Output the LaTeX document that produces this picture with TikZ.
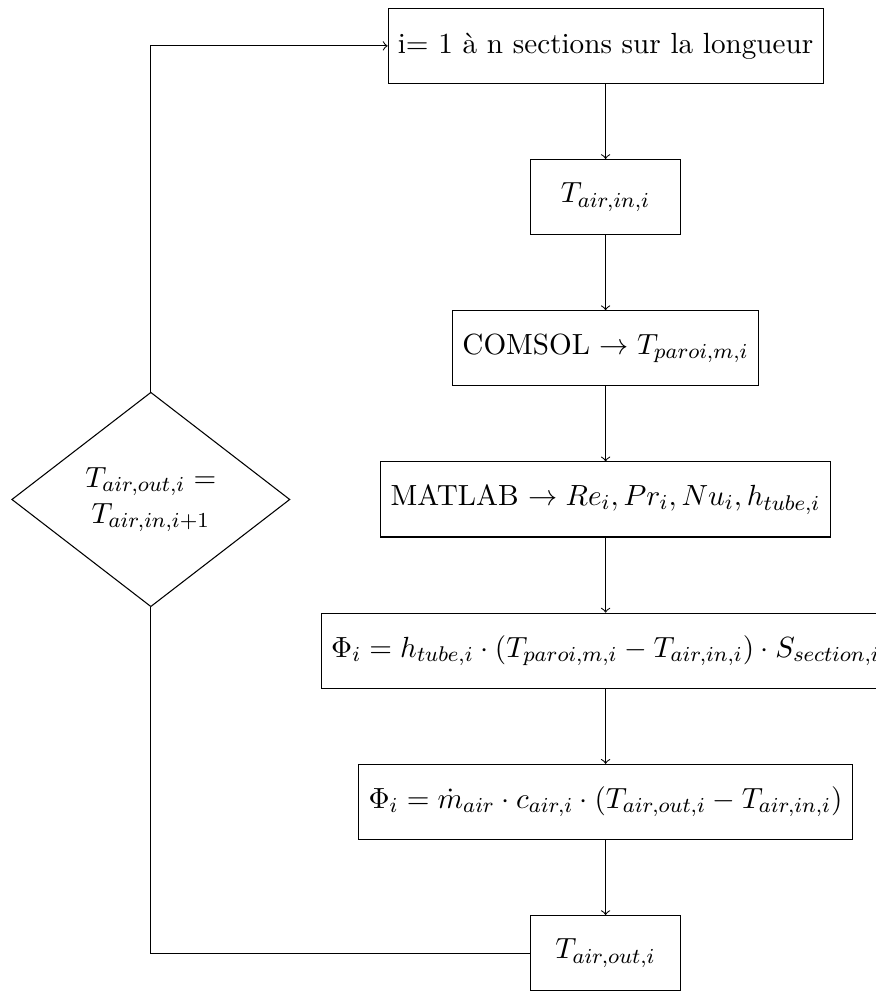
\documentclass[tikz,border=0pt,11pt]{standalone}
\usetikzlibrary{shapes.geometric}

\tikzset{
  etape/.style={draw, minimum width=1.98cm, minimum height=0.99cm},
  test/.style={draw, diamond, align=center, inner sep=0pt,
    minimum width=3.67cm, minimum height=2.83cm},
}

\begin{document}
\begin{tikzpicture}
    \def\x{6.0}
    \def\y{-1.995}
    \useasboundingbox (-1.99,0.605) rectangle (9.56,-12.47);
    \node[etape] (A0_1) at (1*\x, 0*\y) {i= 1 à n sections sur la longueur};
    \node[etape] (A1_1) at (1*\x, 1*\y) {$T_{air,in,i}$};
    \node[etape] (A2_1) at (1*\x, 2*\y) {COMSOL $\rightarrow T_{paroi,m,i}$};
    \node[etape] (A3_1) at (1*\x, 3*\y) {MATLAB $\rightarrow Re_i, Pr_i, Nu_i, h_{tube,i}$};
    \node[etape] (A4_1) at (1*\x, 4*\y) {$\Phi_i = h_{tube,i} \cdot (T_{paroi,m,i} - T_{air,in,i}) \cdot S_{section,i}$};
    \node[etape] (A5_1) at (1*\x, 5*\y) {$\Phi_i = \dot{m}_{air} \cdot c_{air,i} \cdot (T_{air,out,i} - T_{air,in,i})$};
    \node[etape] (A6_1) at (1*\x, 6*\y) {$T_{air,out,i}$};
    \node[test] (A3_0) at (0*\x, 3*\y) {$T_{air,out,i} =$ \\ $T_{air,in,i+1}$};
    \path (A0_1) edge [->] (A1_1);
    \path (A1_1) edge [->] (A2_1);
    \path (A2_1) edge [->] (A3_1);
    \path (A3_1) edge [->] (A4_1);
    \path (A4_1) edge [->] (A5_1);
    \path (A5_1) edge [->] (A6_1);
    % retour vers la section suivante
    \draw (A6_1) -| (A3_0);
    \draw [->] (A3_0) |- (A0_1);
  \end{tikzpicture}
\end{document}
